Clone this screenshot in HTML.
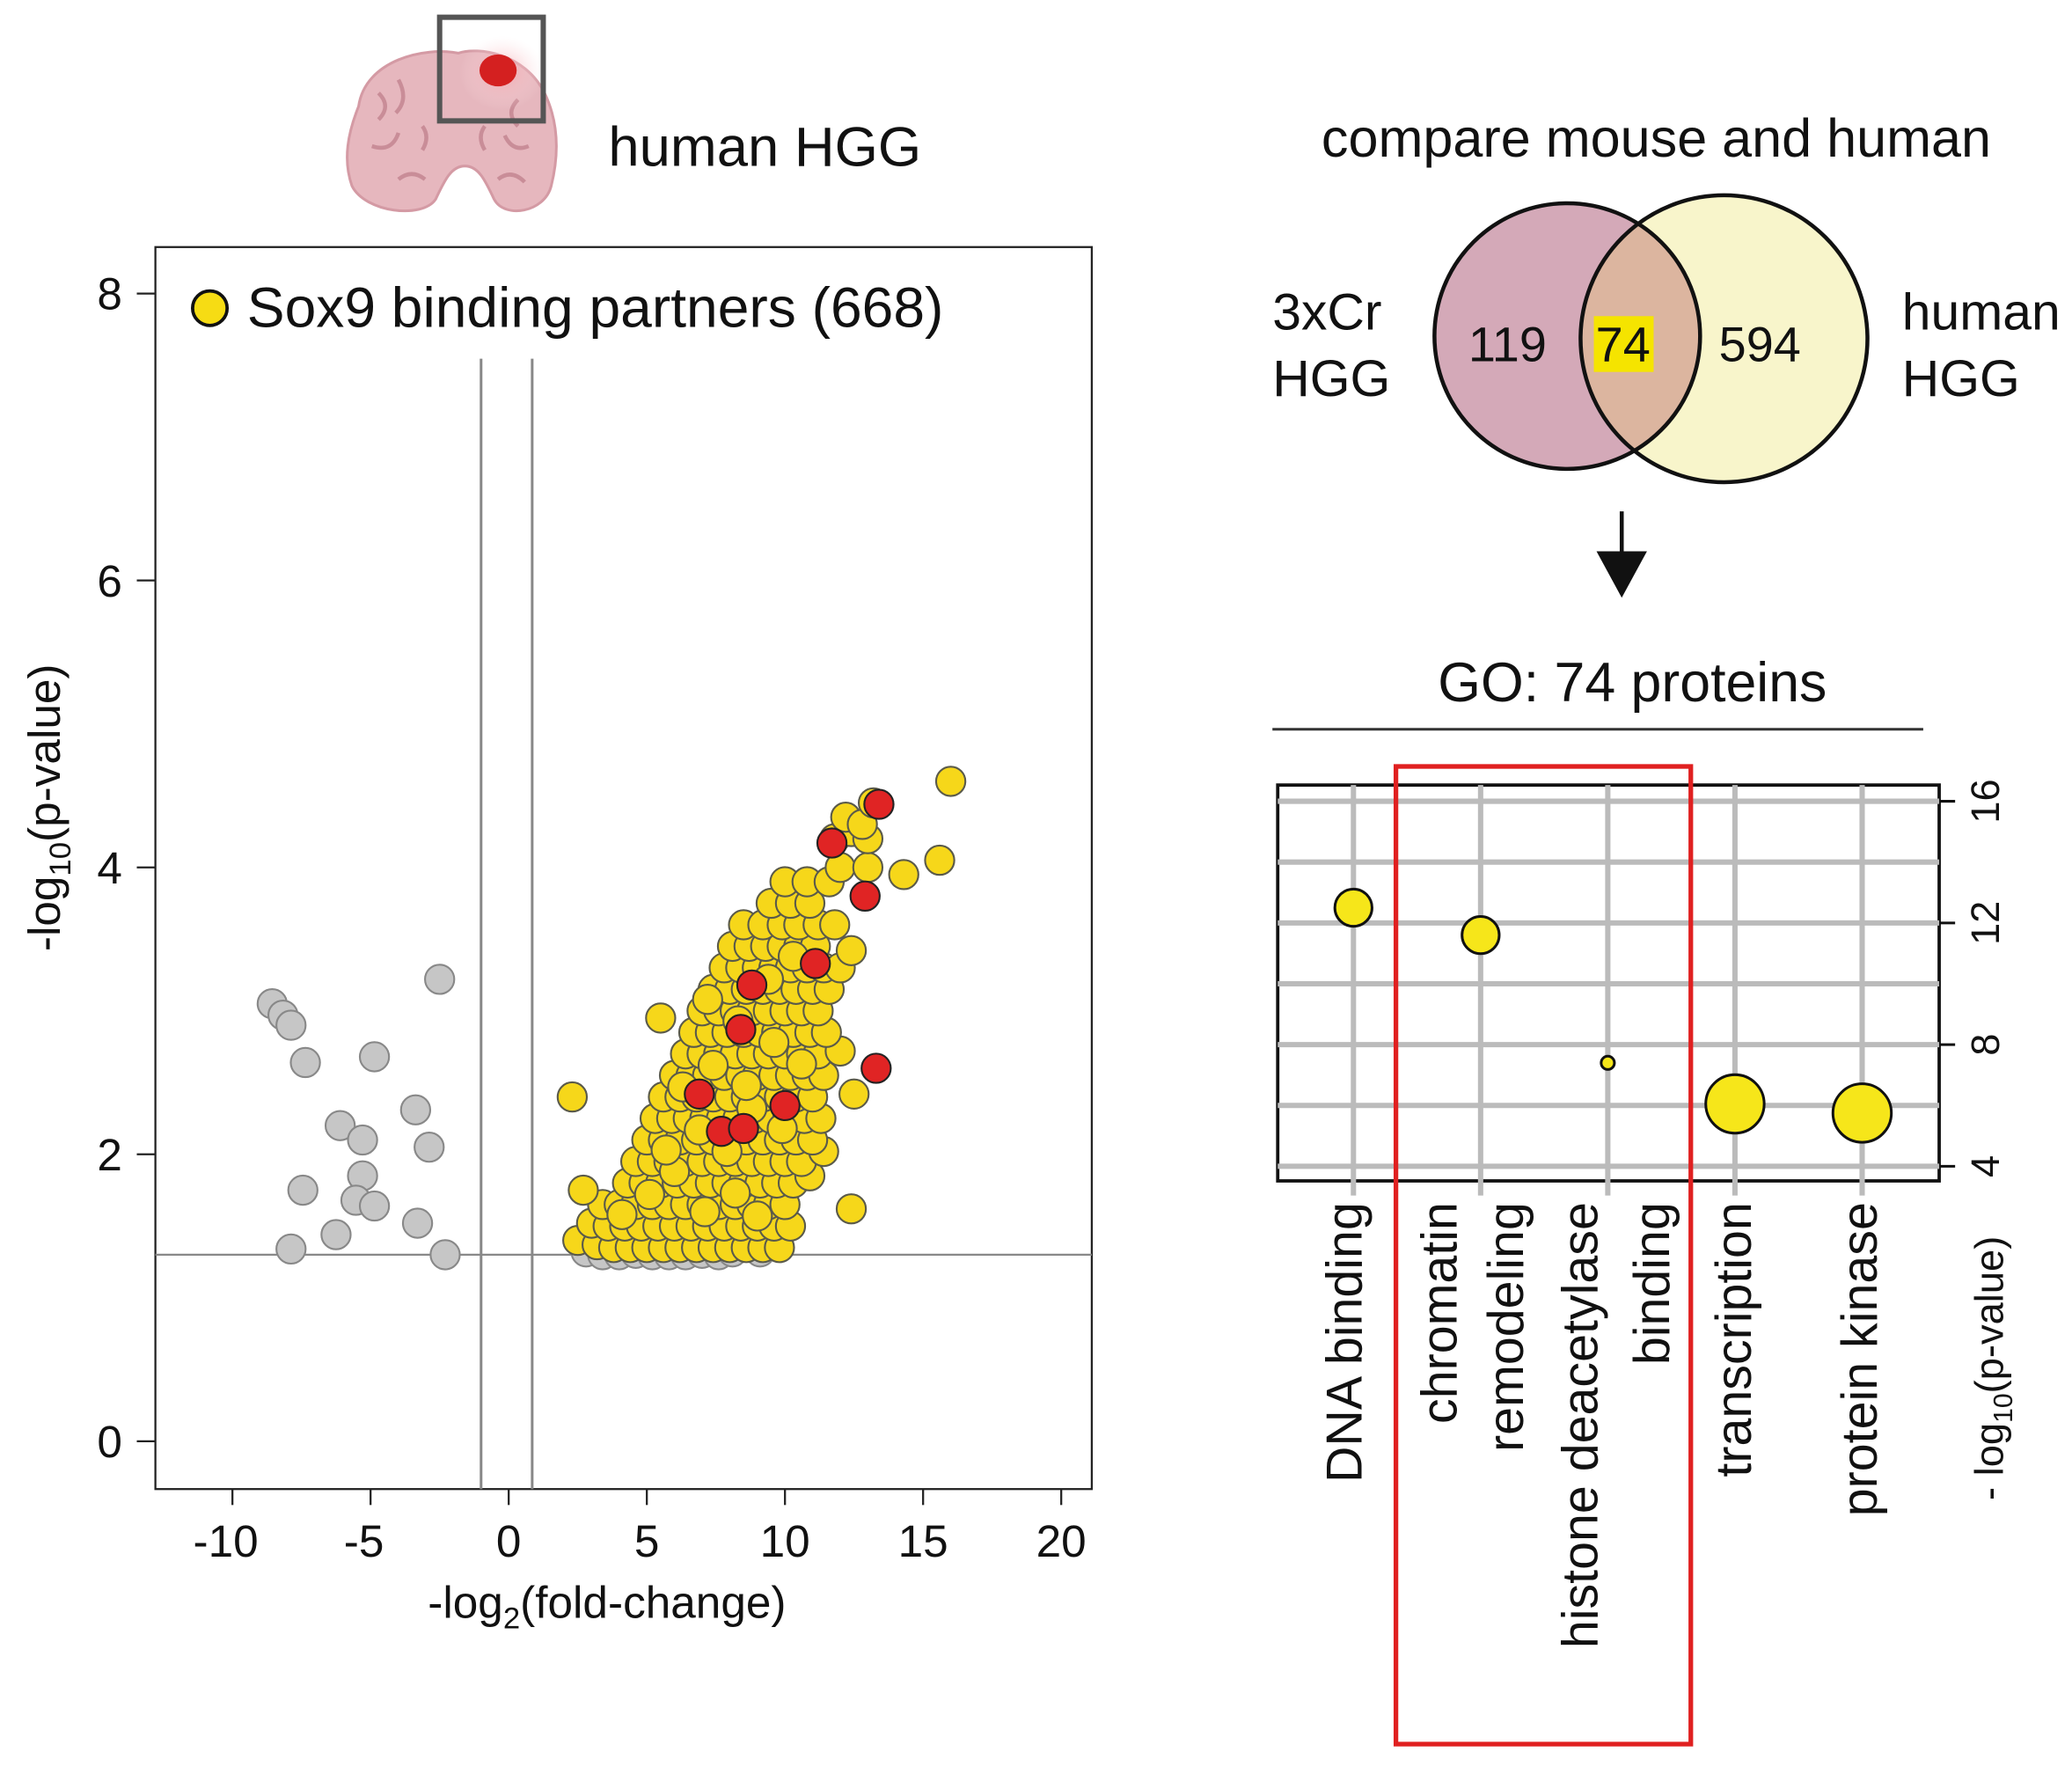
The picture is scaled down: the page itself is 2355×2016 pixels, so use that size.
<!DOCTYPE html>
<html><head><meta charset="utf-8"><style>
html,body{margin:0;padding:0;background:#fff}
svg{display:block}
text{font-family:"Liberation Sans",Arial,sans-serif;fill:#111}
</style></head><body>
<svg id="fig" width="2355" height="2016" viewBox="0 0 1560 1335.5" preserveAspectRatio="none" xmlns="http://www.w3.org/2000/svg">
<defs><radialGradient id="halo"><stop offset="0" stop-color="#f4a0a8" stop-opacity="0.8"/><stop offset="1" stop-color="#fde6e8" stop-opacity="0"/></radialGradient></defs>
<!-- brain -->
<g>
 <path d="M270,80 C275,45 320,35 345,40 C360,35 395,40 410,70 C422,95 420,120 415,140 C410,160 380,165 372,150 C365,135 360,125 350,125 C340,125 335,135 328,150 C318,165 275,160 265,140 C258,120 262,100 270,80 Z" fill="#e6b7be" stroke="#d49aa4" stroke-width="2"/>
 <path d="M285,70 q10,10 0,20 M300,60 q8,15 -2,25 M280,110 q15,5 20,-10 M390,75 q-10,10 0,20 M398,110 q-12,5 -18,-8 M300,135 q10,-8 20,0 M375,135 q10,-8 20,2 M318,95 q6,8 0,18 M365,95 q-6,8 0,18" fill="none" stroke="#c98d98" stroke-width="3"/>
 <ellipse cx="378" cy="55" rx="32" ry="28" fill="url(#halo)"/>
 <ellipse cx="375" cy="53" rx="14" ry="12" fill="#d42020"/>
 <rect x="331" y="13" width="78" height="78" fill="none" stroke="#555" stroke-width="4"/>
</g>
<text x="458" y="125" font-size="42">human HGG</text>

<!-- volcano plot -->
<g id="volcano">
 <rect x="117" y="186" width="705" height="935" fill="none" stroke="#222" stroke-width="1.5"/>
 <g id="vgrid"></g>
 <g id="vpts"></g>
 <circle cx="158" cy="232" r="13" fill="#f6dc14" stroke="#111" stroke-width="2.5"/>
 <text x="186" y="246" font-size="42.5">Sox9 binding partners (668)</text>
 <g id="vaxes"></g>
 <text transform="translate(45,608) rotate(-90)" text-anchor="middle" font-size="34">-log<tspan font-size="23" dy="8">10</tspan><tspan dy="-8">(p-value)</tspan></text>
 <text x="457" y="1218" text-anchor="middle" font-size="34">-log<tspan font-size="23" dy="8">2</tspan><tspan dy="-8">(fold-change)</tspan></text>
</g>

<!-- venn -->
<text x="1247" y="118" text-anchor="middle" font-size="40.5">compare mouse and human</text>
<g>
 <defs><clipPath id="lc"><circle cx="1180" cy="253" r="100"/></clipPath></defs>
 <circle cx="1180" cy="253" r="100" fill="#d4a9b8"/>
 <circle cx="1298" cy="255" r="108" fill="#f8f5cb"/>
 <circle cx="1298" cy="255" r="108" fill="#dcb59f" clip-path="url(#lc)"/>
 <circle cx="1180" cy="253" r="100" fill="none" stroke="#111" stroke-width="3"/>
 <circle cx="1298" cy="255" r="108" fill="none" stroke="#111" stroke-width="3"/>
 <rect x="1200" y="238" width="45" height="42" fill="#f5e400"/>
 <text x="1135" y="272" text-anchor="middle" font-size="37">119</text>
 <text x="1222" y="272" text-anchor="middle" font-size="37">74</text>
 <text x="1325" y="272" text-anchor="middle" font-size="37">594</text>
 <text x="958" y="248" font-size="39">3xCr</text>
 <text x="958" y="298" font-size="39">HGG</text>
 <text x="1432" y="248" font-size="39">human</text>
 <text x="1432" y="298" font-size="39">HGG</text>
</g>
<g>
 <line x1="1221" y1="385" x2="1221" y2="418" stroke="#111" stroke-width="3"/>
 <polygon points="1202,415 1240,415 1221,450" fill="#111"/>
</g>
<text x="1229" y="528" text-anchor="middle" font-size="41.5">GO: 74 proteins</text>
<line x1="958" y1="549" x2="1448" y2="549" stroke="#333" stroke-width="2"/>

<!-- GO bubble chart -->
<g id="gochart"></g>
<text transform="translate(1508,1030) rotate(-90)" text-anchor="middle" font-size="30">- log<tspan font-size="20" dy="7">10</tspan><tspan dy="-7">(p-value)</tspan></text>
<rect x="1051" y="577" width="222" height="736" fill="none" stroke="#e02020" stroke-width="3.5"/>

<script>
// ---------- volcano data ----------
const grayX = [-8.56,-8.17,-7.88,-7.36,-4.86,-2.5,-6.1,-5.29,-3.37,-2.88,-7.45,-5.29,-5.53,-4.86,-3.3,-6.25,-7.88,-2.3,2.8,3.4,4.0,4.6,5.2,5.8,6.4,7.0,7.6,8.1,9.1];
const grayY = [3.05,2.97,2.90,2.64,2.68,3.22,2.2,2.10,2.31,2.05,1.75,1.85,1.68,1.64,1.52,1.44,1.34,1.3,1.32,1.3,1.3,1.31,1.3,1.3,1.3,1.31,1.3,1.32,1.32];
const yellowX = [2.5,3.2,3.8,4.4,5,5.6,6.2,6.8,7.4,8,8.6,9.2,9.8,
 3,3.6,4.2,4.8,5.4,6,6.6,7.2,7.8,8.4,9,9.6,10.2,
 3.4,4,4.6,5.2,5.8,6.4,7,7.6,8.2,8.8,9.4,10,12.4,
 2.7,4.3,4.9,5.5,6.1,6.7,7.3,7.9,8.5,9.1,9.7,10.3,10.9,
 4.6,5.2,5.8,6.4,7,7.6,8.2,8.8,9.4,10,10.6,11.4,
 5,5.6,6.2,6.8,7.4,8,8.6,9.2,9.8,10.4,11,
 5.3,5.9,6.5,7.1,7.7,8.3,8.9,9.5,10.1,10.7,11.3,
 2.3,5.6,6.2,6.8,7.4,8,8.6,9.2,9.8,10.4,11,12.5,
 6,6.6,7.2,7.8,8.4,9,9.6,10.2,10.8,11.4,
 6.4,7,7.6,8.2,8.8,9.4,10,10.6,11.2,12,
 6.7,7.3,7.9,8.5,9.1,9.7,10.3,10.9,11.5,5.5,
 7,7.6,8.2,8.8,9.4,10,10.6,11.2,
 7.4,8,8.6,9.2,9.8,10.4,11,11.6,
 7.8,8.4,9,9.6,10.2,10.8,11.4,12,
 8.1,8.7,9.3,9.9,10.5,11.1,12.4,
 8.5,9.2,9.9,10.5,11.2,11.8,
 9.5,10.2,10.9,10,10.8,11.6,
 12,13,14.3,15.6,11.8,12.4,13,12.2,12.8,13.2,16,
 4.1,5.1,6.0,7.1,8.2,9.0,5.7,6.9,7.9,8.8,9.9,6.3,7.4,8.6,9.6,10.6,7.2,8.3,9.4,10.3];
const yellowY = [1.4,1.37,1.35,1.35,1.35,1.35,1.35,1.35,1.35,1.35,1.35,1.35,1.35,
 1.52,1.5,1.5,1.5,1.5,1.5,1.5,1.5,1.5,1.5,1.5,1.5,1.5,
 1.65,1.65,1.65,1.65,1.65,1.65,1.65,1.65,1.65,1.65,1.65,1.65,1.62,
 1.75,1.8,1.8,1.8,1.8,1.8,1.8,1.8,1.8,1.8,1.8,1.8,1.85,
 1.95,1.95,1.95,1.95,1.95,1.95,1.95,1.95,1.95,1.95,1.95,2.02,
 2.1,2.1,2.1,2.1,2.1,2.1,2.1,2.1,2.1,2.1,2.1,
 2.25,2.25,2.25,2.25,2.25,2.25,2.25,2.25,2.25,2.25,2.25,
 2.4,2.4,2.4,2.4,2.4,2.4,2.4,2.4,2.4,2.4,2.4,2.42,
 2.55,2.55,2.55,2.55,2.55,2.55,2.55,2.55,2.55,2.55,
 2.7,2.7,2.7,2.7,2.7,2.7,2.7,2.7,2.7,2.72,
 2.85,2.85,2.85,2.85,2.85,2.85,2.85,2.85,2.85,2.95,
 3.0,3.0,3.0,3.0,3.0,3.0,3.0,3.0,
 3.15,3.15,3.15,3.15,3.15,3.15,3.15,3.15,
 3.3,3.3,3.3,3.3,3.3,3.3,3.3,3.3,
 3.45,3.45,3.45,3.45,3.45,3.45,3.42,
 3.6,3.6,3.6,3.6,3.6,3.6,
 3.75,3.75,3.75,3.9,3.9,3.9,
 4.0,4.0,3.95,4.05,4.2,4.25,4.2,4.35,4.3,4.45,4.6,
 1.58,1.72,1.88,1.6,1.73,1.57,2.03,2.17,2.02,2.32,2.18,2.47,2.62,2.48,2.78,2.63,3.08,2.93,3.22,3.38];
const redX = [13.4,11.7,12.9,11.1,8.8,8.4,6.9,10.0,7.7,8.5,13.3];
const redY = [4.44,4.17,3.8,3.33,3.18,2.87,2.42,2.34,2.16,2.18,2.6];
const xTicks = [-10,-5,0,5,10,15,20];
const yTicks = [0,2,4,6,8];

const NS = "http://www.w3.org/2000/svg";
function mk(tag, attrs, parent){const e=document.createElementNS(NS,tag);for(const k in attrs)e.setAttribute(k,attrs[k]);parent.appendChild(e);return e;}
const xS = v => 383 + v*20.8;
const yS = v => 1085 - v*108;

const vg = document.getElementById('vgrid');
let l;
l = mk('line',{x1:xS(-1),x2:xS(-1),y1:270,y2:1121,stroke:'#888','stroke-width':2},vg);


l = mk('line',{x1:xS(0.85),x2:xS(0.85),y1:270,y2:1121,stroke:'#888','stroke-width':2},vg);


l = mk('line',{x1:117,x2:822,y1:yS(1.3),y2:yS(1.3),stroke:'#888','stroke-width':1.5},vg);



const vp = document.getElementById('vpts');
function dot(x,y,fill,stroke,name){
  const c = mk('circle',{cx:xS(x),cy:yS(y),r:11,fill:fill,stroke:stroke,'stroke-width':1.4},vp);
  
  
}
grayX.forEach((x,i)=>dot(x,grayY[i],'#c6c6c6','#888','gray-point'));
yellowX.forEach((x,i)=>dot(x,yellowY[i],'#f6d71a','#5a5a4a','yellow-point'));
redX.forEach((x,i)=>dot(x,redY[i],'#e02424','#222','red-point'));

const va = document.getElementById('vaxes');
xTicks.forEach(t=>{
  const tl = mk('line',{x1:xS(t),x2:xS(t),y1:1121,y2:1133,stroke:'#222','stroke-width':1.5},va);
  
  
  const tx = mk('text',{x:xS(t)-(t<0?5:0),y:1172,'text-anchor':'middle','font-size':34},va);
  tx.textContent = String(t);
  
  
});
yTicks.forEach(t=>{
  const tl = mk('line',{x1:103,x2:117,y1:yS(t),y2:yS(t),stroke:'#222','stroke-width':1.5},va);
  
  
  const tx = mk('text',{x:92,y:yS(t)+12,'text-anchor':'end','font-size':34},va);
  tx.textContent = String(t);
  
  
});

// ---------- GO bubble data ----------
const goCategories = [["DNA binding"],["chromatin","remodeling"],["histone deacetylase","binding"],["transcription"],["protein kinase"]];
const goValues = [12.5, 11.6, 7.4, 6.05, 5.75];
const goSizes = [14, 14, 5, 22, 22];
const goTicks = [4,8,12,16];
const goGrid = [4,6,8,10,12,14,16];
const labelOffsets = [[6],[-18,32],[-8,46],[12],[11]];

const gc = document.getElementById('gochart');
const gy = v => 878 - (v-4)*22.9;
const gx = i => 1019 + i*95.75;
const fr = mk('rect',{x:962,y:591,width:498,height:298,fill:'#fff',stroke:'#111','stroke-width':2.5},gc);


goGrid.forEach(v=>{
  const g = mk('line',{x1:962,x2:1460,y1:gy(v),y2:gy(v),stroke:'#bbb','stroke-width':4},gc);
  
  
});
goCategories.forEach((c,i)=>{
  const g = mk('line',{x1:gx(i),x2:gx(i),y1:591,y2:900,stroke:'#bbb','stroke-width':4},gc);
  
  
});
goTicks.forEach(t=>{
  const tl = mk('line',{x1:1460,x2:1472,y1:gy(t),y2:gy(t),stroke:'#111','stroke-width':2},gc);
  
  
  const tx = mk('text',{transform:`translate(1505,${gy(t)}) rotate(-90)`,'text-anchor':'middle','font-size':30},gc);
  tx.textContent = String(t);
  
  
});
goValues.forEach((v,i)=>{
  const b = mk('circle',{cx:gx(i),cy:gy(v),r:goSizes[i],fill:'#f6e61a',stroke:'#111','stroke-width':2},gc);
  
  
});
goCategories.forEach((lines,i)=>{
  lines.forEach((s,j)=>{
    const off = labelOffsets[i][j];
    const tx = mk('text',{transform:`translate(${gx(i)+off},905) rotate(-90)`,'text-anchor':'end','font-size':38},gc);
    tx.textContent = s;
    
    
  });
});
</script>
</svg>
</body></html>
